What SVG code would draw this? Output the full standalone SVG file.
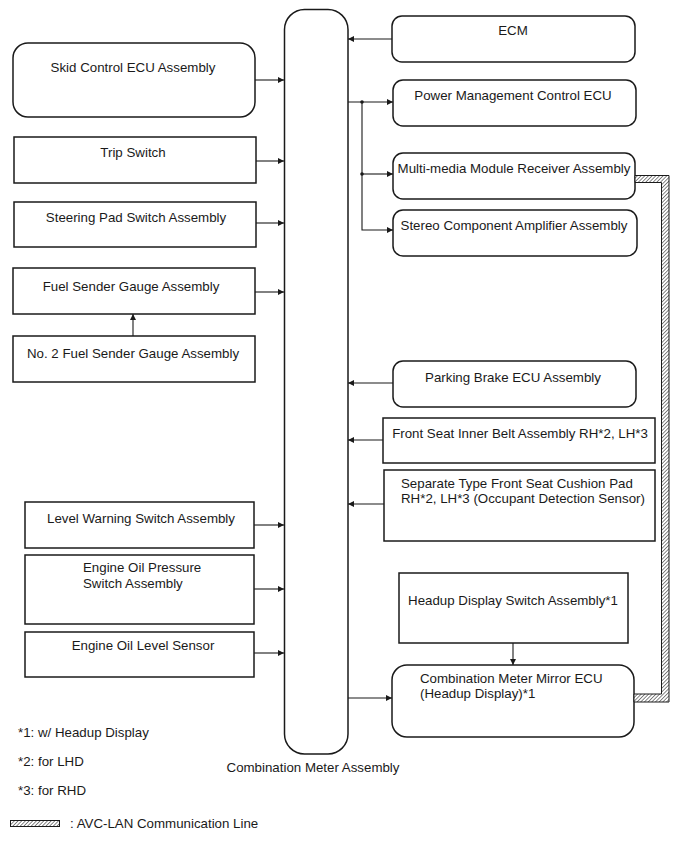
<svg xmlns="http://www.w3.org/2000/svg" width="690" height="854" viewBox="0 0 690 854">
<style>
.box{fill:#fff;stroke:#1a1a1a;stroke-width:1.5}
.t{font-family:"Liberation Sans",Arial,sans-serif;font-size:13.3px;fill:#1a1a1a}
.m{text-anchor:middle}
.ln{fill:none;stroke:#1a1a1a;stroke-width:1.1}
.hat{fill:url(#hatch);stroke:#1a1a1a;stroke-width:1}
</style>
<defs>
<marker id="ah" viewBox="0 0 10 10" refX="10" refY="5" markerWidth="9" markerHeight="6" markerUnits="userSpaceOnUse" orient="auto">
<path d="M0,0 L10,5 L0,10 z" fill="#1a1a1a"/>
</marker>
<pattern id="hatch" patternUnits="userSpaceOnUse" width="2.6" height="2.6" patternTransform="rotate(45)">
<rect width="2.6" height="2.6" fill="#fff"/>
<line x1="0" y1="0" x2="0" y2="2.6" stroke="#222" stroke-width="1.1"/>
</pattern>
</defs>

<g id="combination-meter">
<rect class="box" x="284.5" y="9.5" width="63.5" height="744.5" rx="20"/>
<text class="t m" x="313" y="772">Combination Meter Assembly</text>
</g>

<g id="skid"><rect class="box" x="13" y="43" width="242" height="74" rx="15"/><text class="t m" x="133" y="72">Skid Control ECU Assembly</text></g>
<g id="trip"><rect class="box" x="14" y="137" width="242" height="46"/><text class="t m" x="133" y="157">Trip Switch</text></g>
<g id="steering"><rect class="box" x="14" y="202" width="242" height="45"/><text class="t m" x="136" y="222">Steering Pad Switch Assembly</text></g>
<g id="fuel"><rect class="box" x="13" y="268" width="242" height="46"/><text class="t m" x="131" y="291">Fuel Sender Gauge Assembly</text></g>
<g id="fuel2"><rect class="box" x="13" y="336" width="242" height="46"/><text class="t m" x="133" y="358">No. 2 Fuel Sender Gauge Assembly</text></g>
<g id="level-warning"><rect class="box" x="25" y="502" width="229" height="46"/><text class="t m" x="141" y="523">Level Warning Switch Assembly</text></g>
<g id="oil-pressure"><rect class="box" x="25" y="555" width="229" height="69"/><text class="t" x="83" y="572">Engine Oil Pressure</text><text class="t" x="83" y="588">Switch Assembly</text></g>
<g id="oil-level"><rect class="box" x="25" y="632" width="229" height="45"/><text class="t m" x="143" y="650">Engine Oil Level Sensor</text></g>

<g id="ecm"><rect class="box" x="392" y="16" width="243" height="46" rx="10"/><text class="t m" x="513" y="35">ECM</text></g>
<g id="power-mgmt"><rect class="box" x="393" y="80" width="243" height="46" rx="10"/><text class="t m" x="513" y="100">Power Management Control ECU</text></g>
<g id="multimedia"><rect class="box" x="393" y="153" width="242" height="46" rx="10"/><text class="t m" x="514" y="173">Multi-media Module Receiver Assembly</text></g>
<g id="stereo"><rect class="box" x="393" y="210" width="244" height="46" rx="10"/><text class="t m" x="514" y="230">Stereo Component Amplifier Assembly</text></g>
<g id="parking-brake"><rect class="box" x="393" y="361" width="243" height="46" rx="10"/><text class="t m" x="513" y="382">Parking Brake ECU Assembly</text></g>
<g id="inner-belt"><rect class="box" x="383" y="418" width="272" height="45"/><text class="t m" x="520" y="438">Front Seat Inner Belt Assembly RH*2, LH*3</text></g>
<g id="cushion-pad"><rect class="box" x="384" y="470" width="271" height="71"/><text class="t" x="401" y="488">Separate Type Front Seat Cushion Pad</text><text class="t" x="401" y="503">RH*2, LH*3 (Occupant Detection Sensor)</text></g>
<g id="headup-switch"><rect class="box" x="399" y="573" width="229" height="70"/><text class="t m" x="513" y="605">Headup Display Switch Assembly*1</text></g>
<g id="mirror-ecu"><rect class="box" x="392" y="665" width="242" height="72" rx="15"/><text class="t" x="420" y="683">Combination Meter Mirror ECU</text><text class="t" x="420" y="698">(Headup Display)*1</text></g>

<g id="connectors">
<line class="ln" x1="255" y1="80" x2="284" y2="80" marker-end="url(#ah)"/>
<line class="ln" x1="256" y1="161" x2="284" y2="161" marker-end="url(#ah)"/>
<line class="ln" x1="256" y1="223" x2="284" y2="223" marker-end="url(#ah)"/>
<line class="ln" x1="255" y1="292" x2="284" y2="292" marker-end="url(#ah)"/>
<line class="ln" x1="133" y1="336" x2="133" y2="314" marker-end="url(#ah)"/>
<line class="ln" x1="254" y1="525" x2="284" y2="525" marker-end="url(#ah)"/>
<line class="ln" x1="254" y1="589" x2="284" y2="589" marker-end="url(#ah)"/>
<line class="ln" x1="254" y1="653" x2="284" y2="653" marker-end="url(#ah)"/>
<line class="ln" x1="392" y1="39" x2="348" y2="39" marker-end="url(#ah)"/>
<line class="ln" x1="348" y1="102" x2="393" y2="102" marker-end="url(#ah)"/>
<line class="ln" x1="362" y1="174" x2="393" y2="174" marker-end="url(#ah)"/>
<polyline class="ln" points="362,102 362,230 393,230" marker-end="url(#ah)"/>
<circle cx="362" cy="102" r="1.8" fill="#1a1a1a"/>
<circle cx="362" cy="174" r="1.8" fill="#1a1a1a"/>
<line class="ln" x1="393" y1="383" x2="348" y2="383" marker-end="url(#ah)"/>
<line class="ln" x1="383" y1="440" x2="348" y2="440" marker-end="url(#ah)"/>
<line class="ln" x1="384" y1="504" x2="348" y2="504" marker-end="url(#ah)"/>
<line class="ln" x1="348" y1="698" x2="392" y2="698" marker-end="url(#ah)"/>
<line class="ln" x1="513" y1="643" x2="513" y2="665" marker-end="url(#ah)"/>
<path class="hat" d="M635,175.5 H669 V702 H634 V694 H661.5 V182.5 H635 Z"/>
</g>

<g id="legend">
<text class="t" x="18" y="737">*1: w/ Headup Display</text>
<text class="t" x="18" y="766">*2: for LHD</text>
<text class="t" x="18" y="795">*3: for RHD</text>
<rect class="hat" x="10.5" y="820.5" width="49" height="6"/>
<text class="t" x="70" y="828">: AVC-LAN Communication Line</text>
</g>
</svg>
